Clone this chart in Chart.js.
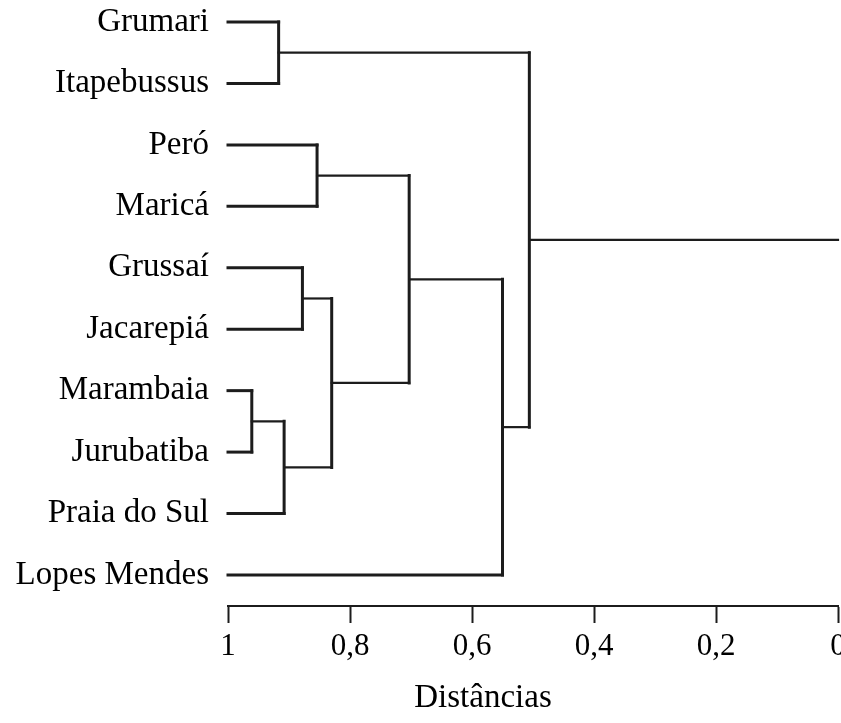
<!DOCTYPE html>
<html>
<head>
<meta charset="utf-8">
<script src="https://cdn.jsdelivr.net/npm/chart.js@4.4.1/dist/chart.umd.min.js"></script>
<style>
  html, body { margin: 0; padding: 0; background: #ffffff; }
  #wrap { width: 841px; height: 723px; position: relative; }
</style>
</head>
<body>
<div id="wrap"><canvas id="c"></canvas></div>
<script>
// Sampling sites, in leaf order from top to bottom
const sites = ['Grumari', 'Itapebussus', 'Peró', 'Maricá', 'Grussaí', 'Jacarepiá',
               'Marambaia', 'Jurubatiba', 'Praia do Sul', 'Lopes Mendes'];

// Agglomeration steps (linkage style): indices < sites.length are sites,
// index sites.length + k is the cluster formed at step k.
const mergeA = [0, 2, 4, 6, 13, 12, 11, 16, 10];
const mergeB = [1, 3, 5, 7, 8, 14, 15, 9, 17];
const mergeLevel = [0.917, 0.854, 0.878, 0.961, 0.908, 0.830, 0.703, 0.550, 0.506];

// Level where the root stem ends, and the distance axis ticks
const rootEnd = 0;
const distTicks = [1, 0.8, 0.6, 0.4, 0.2, 0];
const axisLabel = 'Distâncias';

const INK = '#1c1c1c';
const SERIF = '"Liberation Serif", "Times New Roman", serif';

// Node positions: sites sit at level 1 on their own row,
// clusters at their merge level, halfway between their two members.
const nodeX = [], nodeY = [];
sites.forEach((_, i) => { nodeX[i] = 1; nodeY[i] = i; });
mergeLevel.forEach((lvl, k) => {
  const id = sites.length + k;
  nodeX[id] = lvl;
  nodeY[id] = (nodeY[mergeA[k]] + nodeY[mergeB[k]]) / 2;
});

function seg(points, width) {
  return {
    data: points,
    showLine: true,
    borderColor: INK,
    borderWidth: width,
    borderCapStyle: 'square',
    borderJoinStyle: 'miter',
    pointRadius: 0,
    pointHoverRadius: 0,
    fill: false,
    clip: false
  };
}

const datasets = [];
mergeLevel.forEach((lvl, k) => {
  const a = mergeA[k], b = mergeB[k];
  [a, b].forEach(m => {
    const w = m < sites.length ? 3 : 2.2;
    datasets.push(seg([{ x: nodeX[m], y: nodeY[m] }, { x: lvl, y: nodeY[m] }], w));
  });
  datasets.push(seg([{ x: lvl, y: nodeY[a] }, { x: lvl, y: nodeY[b] }], 3));
});
const rootId = sites.length + mergeLevel.length - 1;
datasets.push(seg([{ x: nodeX[rootId], y: nodeY[rootId] }, { x: rootEnd, y: nodeY[rootId] }], 2.2));

// Axis caption under the distance scale
const axisCaption = {
  id: 'axisCaption',
  afterDraw(chart) {
    const ctx = chart.ctx;
    ctx.save();
    ctx.font = '33px ' + SERIF;
    ctx.fillStyle = '#000';
    ctx.textAlign = 'center';
    ctx.textBaseline = 'alphabetic';
    ctx.fillText(axisLabel, 483, 707);
    ctx.restore();
  }
};

new Chart(document.getElementById('c'), {
  type: 'scatter',
  data: { datasets },
  options: {
    responsive: true,
    maintainAspectRatio: false,
    animation: false,
    events: [],
    layout: { padding: { left: 0, right: 3, top: 0, bottom: 0 } },
    plugins: { legend: { display: false }, tooltip: { enabled: false } },
    scales: {
      x: {
        type: 'linear',
        min: 0,
        max: 1,
        reverse: true,
        afterBuildTicks: s => { s.ticks = distTicks.map(v => ({ value: v })); },
        ticks: {
          callback: v => String(v).replace('.', ','),
          font: { family: SERIF, size: 31 },
          color: '#000',
          padding: 5,
          autoSkip: false,
          maxRotation: 0
        },
        grid: { drawOnChartArea: false, drawTicks: true, tickLength: 17, tickWidth: 2, tickColor: INK },
        border: { display: true, color: INK, width: 2 },
        afterFit: s => { s.height = 117; s.paddingLeft = 0; s.paddingRight = 0; }
      },
      y: {
        type: 'linear',
        min: -0.358,
        max: 9.505,
        reverse: true,
        afterBuildTicks: s => { s.ticks = sites.map((_, i) => ({ value: i })); },
        ticks: {
          callback: v => sites[v],
          font: { family: SERIF, size: 33 },
          color: '#000',
          padding: 19,
          autoSkip: false
        },
        grid: { display: false, drawTicks: false },
        border: { display: false },
        afterFit: s => { s.width = 228; s.paddingTop = 0; s.paddingBottom = 0; }
      }
    }
  },
  plugins: [axisCaption]
});
</script>
</body>
</html>
